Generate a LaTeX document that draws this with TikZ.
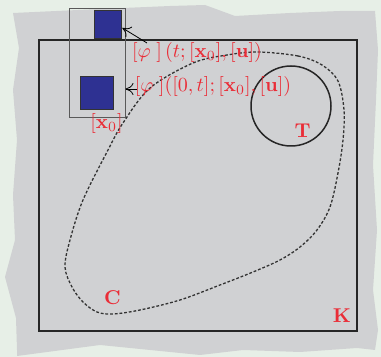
\documentclass[tikz,border=0pt]{standalone}
\usepackage{amsmath}
\usetikzlibrary{arrows.meta}
\definecolor{bgc}{RGB}{231,239,231}
\definecolor{torn}{RGB}{208,209,211}
\definecolor{sqblue}{RGB}{46,49,146}
\definecolor{lblred}{RGB}{234,45,55}
\tikzset{
  lbl/.style={text=lblred, inner sep=0pt},
  sqbox/.style={draw=black!80, fill=sqblue, line width=0.5pt, inner sep=0pt},
  ptr/.style={-{To[length=4pt,width=6pt]}, line width=0.4pt, black},
}
\begin{document}
\begin{tikzpicture}[x=0.5pt,y=-0.5pt]
\useasboundingbox (0,0) rectangle (381,357);
\fill[bgc] (0,0) rectangle (381,357);
% torn paper
\fill[torn] (13,13) -- (100,9) -- (170,6) -- (205,5) -- (235,16) -- (290,13) -- (340,11) -- (375,11)
  -- (378,50) -- (376,100) -- (373,165) -- (377,230) -- (373,290) -- (378,330) -- (375,350)
  -- (357,348) -- (300,352) -- (243,350) -- (200,355) -- (100,345) -- (17,356)
  -- (17,350) -- (16,318) -- (5,277) -- (15,240) -- (13,195) -- (17,140) -- (13,90) -- (19,48) -- cycle;
% K
\draw[line width=0.8pt, black!85] (39,40) rectangle (357,331);
% small rect
\node[draw=black!65, line width=0.45pt, inner sep=0pt, minimum width=28pt, minimum height=54.5pt] (box) at (97,62.5) {};
% squares
\node[sqbox, minimum width=13.8pt, minimum height=13.6pt] (sq1) at (108,24.5) {};
\node[sqbox, minimum width=16.5pt, minimum height=16.5pt] (sq2) at (97.2,93.5) {};
% C curve
\draw[line width=0.65pt, black!80, dash pattern=on 1.4pt off 0.95pt]
  plot[smooth cycle, tension=0.55] coordinates {(258,52) (298,56) (322,65) (338,81) (344,110) (343,140) (338,173) (330,207) (317,230) (300,247) (280,260) (253,272) (220,285) (180,300) (140,310) (113,314) (97,312) (83,302) (72,287) (65,267) (70,240) (83,200) (108,150) (123,123) (150,88) (193,63) (227,55)};
% T circle
\draw[line width=0.75pt, black!85] (291,106) circle (40);
% labels
\node[lbl] (l1) at (197,53) {$[\varphi\;]\,(t;[\mathbf{x}_0],[\mathbf{u}])$};
\node[lbl] (l2) at (213,86.5) {$[\varphi\;]([0,t];[\mathbf{x}_0],[\mathbf{u}])$};
\node[lbl] (l3) at (106.5,124) {$[\mathbf{x}_0]$};
\node[lbl] (lc) at (112.5,298) {$\mathbf{C}$};
\node[lbl] (lt) at (302.5,131) {$\mathbf{T}$};
\node[lbl] (lk) at (342,316) {$\mathbf{K}$};
% arrows
\coordinate (a1) at (147,43);
\coordinate (a2) at (137,89);
\draw[ptr] (a1) -- ([yshift=-1.7pt]sq1.east);
\draw[ptr] (a2) -- (a2 -| box.east);
\end{tikzpicture}
\end{document}
